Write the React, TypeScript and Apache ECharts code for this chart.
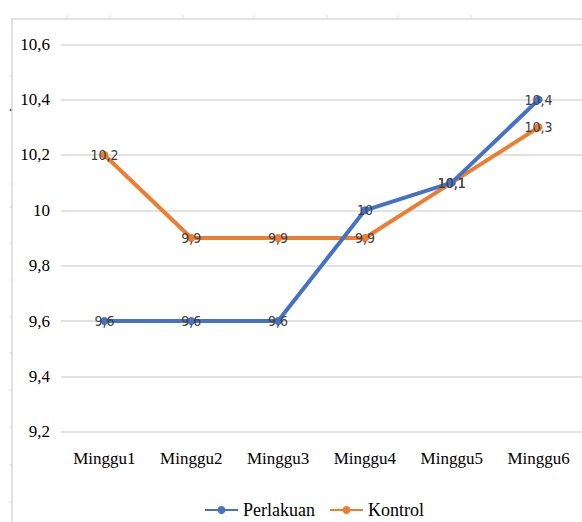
import React, { useEffect, useRef } from "react";
import * as echarts from "echarts";

const categories = ["Minggu1", "Minggu2", "Minggu3", "Minggu4", "Minggu5", "Minggu6"];
const perlakuan = [9.6, 9.6, 9.6, 10.0, 10.1, 10.4];
const kontrol = [10.2, 9.9, 9.9, 9.9, 10.1, 10.3];
const yTicks = { min: 9.2, max: 10.6, interval: 0.2 };
const seriesNames = ["Perlakuan", "Kontrol"];

const fmt = (v: number) => {
  const r = Math.round(v * 10) / 10;
  return String(r).replace(".", ",");
};

const topTicks = [67, 110, 183, 254, 327, 398, 471];
const leftTicks = [76, 184, 207, 243, 280, 317, 353, 390, 427, 465, 502];
const SERIF = "Liberation Serif, Times New Roman, serif";
const NARROW = "DejaVu Sans Condensed, Liberation Sans, sans-serif";

export default function App() {
  const ref = useRef<HTMLDivElement>(null);
  useEffect(() => {
    if (!ref.current) return;
    const chart = echarts.init(ref.current, undefined, { renderer: "svg" });
    const frameColor = "#d9d9d9";
    const graphics: any[] = [
      { type: "line", shape: { x1: 11, y1: 19, x2: 582, y2: 19 }, style: { stroke: frameColor, lineWidth: 1.5 } },
      { type: "line", shape: { x1: 12, y1: 19, x2: 12, y2: 522 }, style: { stroke: frameColor, lineWidth: 1.5 } },
      { type: "circle", shape: { cx: 10.5, cy: 110, r: 1 }, style: { fill: "#555" } },
    ];
    topTicks.forEach((x) =>
      graphics.push({ type: "line", shape: { x1: x, y1: 15, x2: x, y2: 19 }, style: { stroke: frameColor, lineWidth: 1 } })
    );
    leftTicks.forEach((y) =>
      graphics.push({ type: "line", shape: { x1: 9.5, y1: y, x2: 12, y2: y }, style: { stroke: frameColor, lineWidth: 1 } })
    );
    const labelStyle = {
      show: true,
      position: "inside",
      color: "#404040",
      fontFamily: NARROW,
      fontSize: 14,
      formatter: (p: any) => fmt(p.value),
    };
    chart.setOption({
      animation: false,
      backgroundColor: "#ffffff",
      textStyle: { fontFamily: SERIF },
      graphic: graphics,
      grid: { left: 61, right: -11, top: 44.3, bottom: 90.3, containLabel: false },
      legend: {
        left: 204,
        top: 501,
        padding: 0,
        itemWidth: 33,
        itemHeight: 10,
        itemGap: 14,
        data: seriesNames,
        textStyle: { fontFamily: SERIF, fontSize: 18, lineHeight: 18, color: "#000" },
      },
      xAxis: {
        type: "category",
        data: categories,
        boundaryGap: true,
        axisLine: { show: false },
        axisTick: { show: false },
        axisLabel: { margin: 18, fontFamily: SERIF, fontSize: 17, color: "#000" },
      },
      yAxis: {
        type: "value",
        min: yTicks.min,
        max: yTicks.max,
        interval: yTicks.interval,
        axisLine: { show: false },
        axisTick: { show: false },
        axisLabel: {
          margin: 11,
          fontFamily: SERIF,
          fontSize: 17,
          color: "#000",
          formatter: (v: number) => fmt(v),
        },
        splitLine: { lineStyle: { color: "#d9d9d9", width: 1.5 } },
      },
      series: [
        {
          name: seriesNames[0],
          type: "line",
          data: perlakuan,
          symbol: "circle",
          symbolSize: 8,
          itemStyle: { color: "#4472C4" },
          lineStyle: { color: "#4472C4", width: 4 },
          label: labelStyle,
          z: 3,
        },
        {
          name: seriesNames[1],
          type: "line",
          data: kontrol,
          symbol: "circle",
          symbolSize: 8,
          itemStyle: { color: "#ED7D31" },
          lineStyle: { color: "#ED7D31", width: 4 },
          label: labelStyle,
          z: 2,
        },
      ],
    });
    return () => chart.dispose();
  }, []);
  return <div ref={ref} style={{ width: 582, height: 522, position: "fixed", left: 0, top: 0 }} />;
}
